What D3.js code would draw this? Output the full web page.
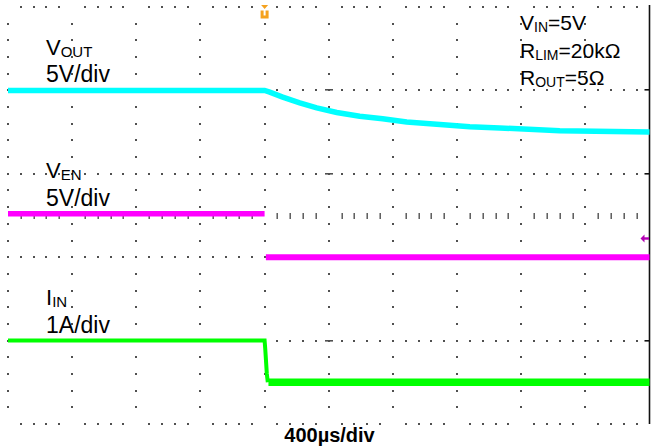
<!DOCTYPE html>
<html>
<head>
<meta charset="utf-8">
<script src="https://cdnjs.cloudflare.com/ajax/libs/d3/7.8.5/d3.min.js"></script>
<style>
  body { margin: 0; background: #ffffff; }
  svg { display: block; }
</style>
</head>
<body>
<div id="scope"></div>
<script>
// Scope colours
var cyan = "#00FFFF";
var magenta = "#FF00FF";
var green = "#00FF00";
var gridGrey = "#505050";
var trigOrange = "#F5A21E";
var levelPurple = "#B400B4";

const fontFamily = "'Liberation Sans', Arial, sans-serif";

// time axis: 400us/div, trigger at 0
var timeRange = [-1600, 2400];
var divRange = [0, 5];

// VOUT (channel in divisions from bottom of screen)
var voutTime = [-1600, 0, 32, 113, 219, 325, 450, 593, 736, 886, 1073, 1279, 1466, 1840, 2400];
var voutDiv = [4.0, 4.0, 3.98, 3.92, 3.85, 3.79, 3.735, 3.69, 3.66, 3.62, 3.595, 3.565, 3.55, 3.515, 3.5];

// VEN (the edge is too fast to show, so two pieces)
var venTime = [-1600, 0];
var venDiv = [2.52, 2.52];
var venLowTime = [8, 2400];
var venLowDiv = [2.0, 2.0];

// IIN
var iinTime = [-1600, 0, 4, 14, 20];
var iinDiv = [1.0, 1.0, 0.9, 0.6, 0.5];
var iinLowTime = [24, 2400];
var iinLowDiv = [0.5, 0.5];

// set the dimensions of the screen
const width = 654, height = 447;
const gridLeft = 8, gridRight = 649.5, gridTop = 7, gridBottom = 424;

const svg = d3.select("#scope")
    .append("svg")
    .attr("width", width)
    .attr("height", height);

const x = d3.scaleLinear().domain(timeRange).range([gridLeft, gridRight]);
const y = d3.scaleLinear().domain(divRange).range([gridBottom, gridTop]);
const xDiv = d3.scaleLinear().domain([0, 10]).range([gridLeft, gridRight]);

// ---- graticule ----
const grid = svg.append("g");

// dots on the vertical lines
var colDots = [];
for (var i = 0; i < 10; i++) {
    for (var k = 1; k < 25; k++) colDots.push([i, k * 0.2]);
}
grid.selectAll("rect.coldot")
    .data(colDots)
    .enter().append("rect")
    .attr("x", d => Math.round(xDiv(d[0])) - 1)
    .attr("y", d => Math.round(y(d[1])) - 1)
    .attr("width", 2).attr("height", 2)
    .attr("fill", gridGrey);

// dots on the horizontal lines
var rowDots = [];
for (var j = 0; j <= 5; j++) {
    for (var m = 0; m < 50; m++) {
        if ((j == 0 || j == 5) && m % 5 == 0) continue;
        rowDots.push([m * 0.2, j]);
    }
}
grid.selectAll("rect.rowdot")
    .data(rowDots)
    .enter().append("rect")
    .attr("x", d => Math.round(xDiv(d[0])) - 1)
    .attr("y", d => Math.round(y(d[1])) - 1)
    .attr("width", 2).attr("height", 2)
    .attr("fill", gridGrey);

// center horizontal axis ticks
var centerTicks = d3.range(1, 50).filter(m => m % 5 != 0);
grid.selectAll("rect.ctick")
    .data(centerTicks)
    .enter().append("rect")
    .attr("x", d => Math.round(xDiv(d * 0.2)) - 0.5)
    .attr("y", Math.round(y(2.5)) - 3)
    .attr("width", 1.4).attr("height", 6)
    .attr("fill", gridGrey);

// center vertical axis dashes at major rows
grid.selectAll("rect.cdash")
    .data([1, 2, 3, 4])
    .enter().append("rect")
    .attr("x", Math.round(xDiv(5)) - 4)
    .attr("y", d => Math.round(y(d)) - 1)
    .attr("width", 8).attr("height", 1.6)
    .attr("fill", gridGrey);

// right edge
grid.append("line")
    .attr("x1", gridRight).attr("x2", gridRight)
    .attr("y1", gridTop - 2).attr("y2", gridBottom)
    .attr("stroke", "#111").attr("stroke-width", 1.6);
grid.selectAll("rect.rdash")
    .data([1, 2, 3, 4])
    .enter().append("rect")
    .attr("x", gridRight - 5)
    .attr("y", d => Math.round(y(d)) - 1)
    .attr("width", 5).attr("height", 1.6)
    .attr("fill", "#111");

// ---- traces ----
function trace(times, vals, color, w) {
    var pts = times.map((t, i) => ({ t: t, v: vals[i] }));
    svg.append("path")
        .datum(pts)
        .attr("d", d3.line()
            .x(d => x(d.t))
            .y(d => y(d.v)))
        .attr("fill", "none")
        .attr("stroke", color)
        .attr("stroke-width", w);
}

trace(voutTime, voutDiv, cyan, 5.5);
trace(venTime, venDiv, magenta, 5.5);
trace(venLowTime, venLowDiv, magenta, 6);
trace(iinTime, iinDiv, green, 4);
trace(iinLowTime, iinLowDiv, green, 7.5);

// ---- markers ----
var trigX = x(0);
svg.append("path")
    .attr("d", `M${trigX - 3.5},5 L${trigX + 3.5},5 L${trigX},9 Z`)
    .attr("fill", trigOrange);
svg.append("path")
    .attr("d", `M${trigX - 4},10.5 h3 v5 h2 v-5 h3 v8 h-8 Z`)
    .attr("fill", trigOrange);

svg.append("path")
    .attr("d", `M${gridRight - 9},238.5 L${gridRight - 5},234.5 L${gridRight - 5},242.5 Z`)
    .attr("fill", levelPurple);
svg.append("rect")
    .attr("x", gridRight - 5.5).attr("y", 237.3)
    .attr("width", 5).attr("height", 2.4)
    .attr("fill", levelPurple);

// ---- labels ----
function label(px, py, main, sub, size, subSize) {
    var t = svg.append("text")
        .attr("x", px).attr("y", py)
        .attr("font-family", fontFamily)
        .attr("font-size", size)
        .attr("fill", "#000");
    t.append("tspan").text(main[0]);
    t.append("tspan").text(sub).attr("font-size", subSize).attr("dy", 2);
    if (main.length > 1) t.append("tspan").text(main.slice(1)).attr("dy", -2);
}
function plain(px, py, txt, size) {
    svg.append("text")
        .attr("x", px).attr("y", py)
        .attr("font-family", fontFamily)
        .attr("font-size", size)
        .attr("fill", "#000")
        .text(txt);
}

label(46, 55, "V", "OUT", 22, 15);
plain(46, 82, "5V/div", 23);
label(46, 178, "V", "EN", 22, 15);
plain(46, 206, "5V/div", 23);
label(46, 305, "I", "IN", 22, 15);
plain(46, 333, "1A/div", 23);

label(520, 30, "V=5V", "IN", 21, 14);
label(520, 58, "R=20kΩ", "LIM", 21, 14);
label(520, 85, "R=5Ω", "OUT", 21, 14);

svg.append("text")
    .attr("x", 329.5).attr("y", 442)
    .attr("text-anchor", "middle")
    .attr("font-family", fontFamily)
    .attr("font-weight", "bold")
    .attr("font-size", 20)
    .attr("fill", "#000")
    .text("400µs/div");
</script>
</body>
</html>
